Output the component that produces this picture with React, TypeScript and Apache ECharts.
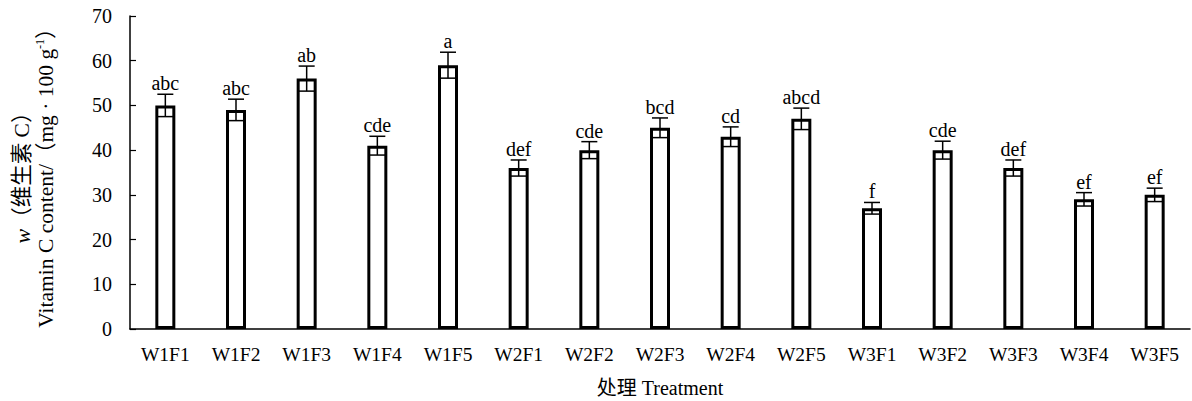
import React, { useEffect, useRef } from "react";
import * as echarts from "echarts";

const categories = ["W1F1", "W1F2", "W1F3", "W1F4", "W1F5", "W2F1", "W2F2", "W2F3", "W2F4", "W2F5", "W3F1", "W3F2", "W3F3", "W3F4", "W3F5"];
const values = [50, 49, 56, 41, 59, 36, 40, 45, 43, 47, 27, 40, 36, 29, 30];
const errors = [2.5, 2.4, 2.8, 2.1, 2.9, 1.8, 1.9, 2.2, 2.2, 2.4, 1.3, 2.0, 1.8, 1.5, 1.5];
const letters = ["abc", "abc", "ab", "cde", "a", "def", "cde", "bcd", "cd", "abcd", "f", "cde", "def", "ef", "ef"];
const yTicks = { min: 0, max: 70, interval: 10 };

const SERIF = "'Liberation Serif', 'Times New Roman', 'Noto Sans CJK SC', serif";

export default function App() {
  const ref = useRef<HTMLDivElement>(null);
  useEffect(() => {
    if (!ref.current) return;
    const chart = echarts.init(ref.current, null, { renderer: "svg" });
    const errData = values.map((v, i) => [i, v, errors[i]]);
    chart.setOption({
      animation: false,
      backgroundColor: "#ffffff",
      grid: { left: 130, right: 2, top: 16, bottom: 72, containLabel: false, outerBoundsMode: "none" },
      xAxis: {
        type: "category",
        data: categories,
        name: "处理 Treatment",
        nameLocation: "middle",
        nameGap: 49,
        nameTextStyle: { fontFamily: SERIF, fontSize: 20, color: "#000" },
        axisLine: { lineStyle: { color: "#000", width: 1.5 } },
        axisTick: { inside: true, length: 6, alignWithLabel: false, lineStyle: { color: "#000", width: 1.2 } },
        axisLabel: { fontFamily: SERIF, fontSize: 19.5, color: "#000", margin: 16, interval: 0 },
      },
      yAxis: {
        type: "value",
        min: yTicks.min,
        max: yTicks.max,
        interval: yTicks.interval,
        name: "{i|w}{n|（维生素 C）}\n{n|Vitamin C content/（mg · 100 g}{sup|-1}{n|）}",
        nameLocation: "middle",
        nameRotate: 90,
        nameGap: 72,
        nameTextStyle: {
          fontFamily: SERIF,
          fontSize: 21.5,
          color: "#000",
          lineHeight: 24,
          rich: {
            i: { fontFamily: SERIF, fontSize: 22, fontStyle: "italic", color: "#000", lineHeight: 24 },
            n: { fontFamily: SERIF, fontSize: 21.5, color: "#000", lineHeight: 24 },
            sup: { fontFamily: SERIF, fontSize: 12, color: "#000", verticalAlign: "top", lineHeight: 24, padding: [0, 0, 8, 0] },
          },
        },
        splitLine: { show: false },
        axisLine: { show: true, lineStyle: { color: "#000", width: 1.5 } },
        axisTick: { show: true, inside: true, length: 6, lineStyle: { color: "#000", width: 1.2 } },
        axisLabel: { fontFamily: SERIF, fontSize: 20, color: "#000", margin: 18 },
      },
      series: [
        {
          type: "bar",
          data: values,
          barWidth: 20,
          itemStyle: { color: "#ffffff", borderColor: "#000", borderWidth: 3 },
        },
        {
          type: "custom",
          data: errData,
          z: 10,
          renderItem: (params: any, api: any) => {
            const idx = api.value(0);
            const v = api.value(1);
            const e = api.value(2);
            const top = api.coord([idx, v + e]);
            const bot = api.coord([idx, v - e]);
            const cap = 8;
            const style = { stroke: "#000", lineWidth: 1.5 };
            return {
              type: "group",
              children: [
                { type: "line", shape: { x1: top[0], y1: top[1], x2: bot[0], y2: bot[1] }, style },
                { type: "line", shape: { x1: top[0] - cap, y1: top[1], x2: top[0] + cap, y2: top[1] }, style },
                { type: "line", shape: { x1: bot[0] - cap, y1: bot[1], x2: bot[0] + cap, y2: bot[1] }, style },
                {
                  type: "text",
                  x: top[0],
                  y: top[1] - 1,
                  style: {
                    text: letters[params.dataIndex],
                    fontFamily: SERIF,
                    fontSize: 20,
                    fill: "#000",
                    align: "center",
                    verticalAlign: "bottom",
                  },
                },
              ],
            };
          },
        },
      ],
    });
    return () => chart.dispose();
  }, []);
  return <div ref={ref} style={{ position: "fixed", left: 0, top: 0, width: 1192, height: 401 }} />;
}
